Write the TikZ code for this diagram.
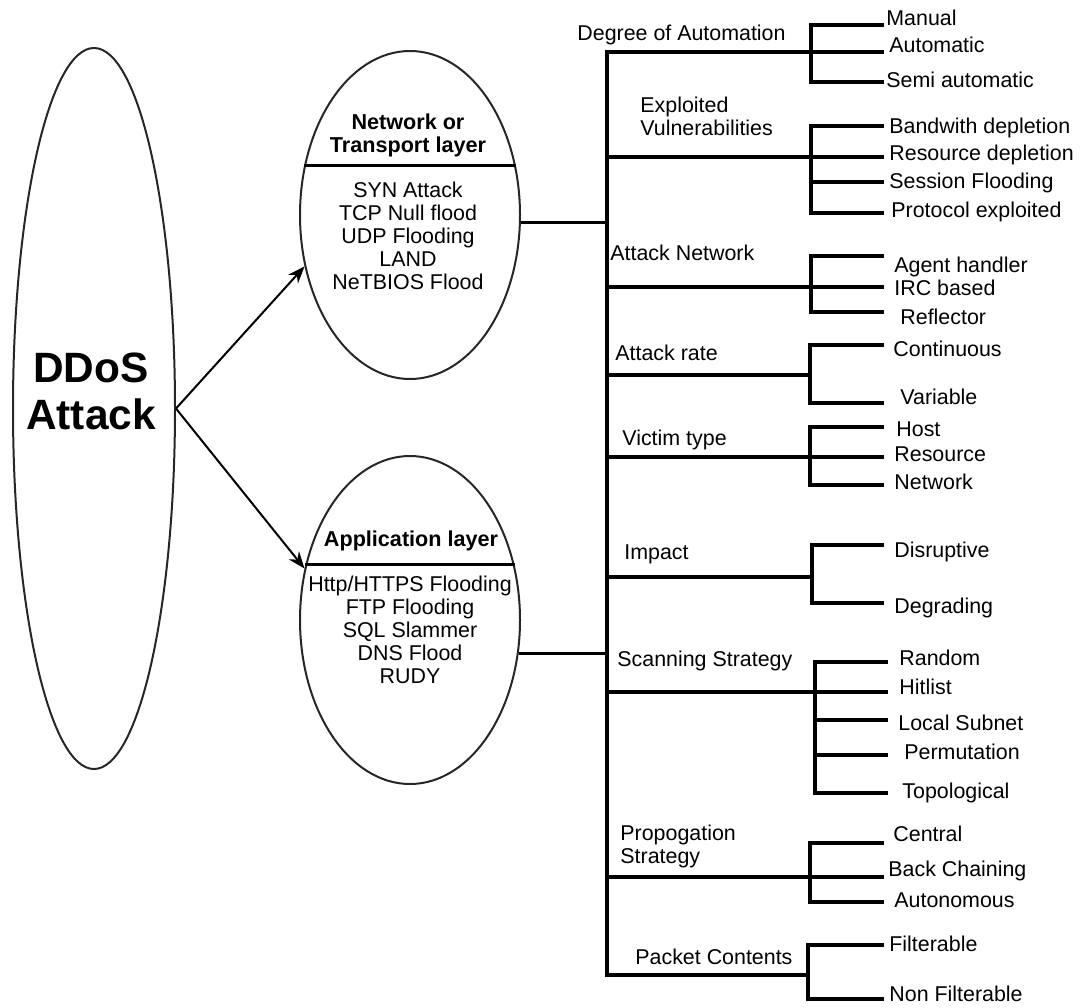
\documentclass[tikz,border=0pt]{standalone}
\usepackage{fontspec}
\setmainfont{Liberation Sans}
\usetikzlibrary{arrows.meta, shapes.geometric}

\begin{document}
\begin{tikzpicture}[
  x=0.5pt, y=-0.5pt,
  every node/.style={font=\fontsize{10.7}{11.5}\selectfont, text=black},
  oval/.style={ellipse, draw=black!85, line width=1pt, inner sep=0pt},
  head/.style={font=\fontsize{10.8}{11.5}\selectfont\bfseries, align=center, inner sep=0pt},
  headline/.style={font=\fontsize{10.8}{11.5}\selectfont\bfseries, inner sep=0pt,
              text height=7.7pt, text depth=0pt},
  body/.style={align=center, inner sep=0pt},
  cat/.style={anchor=west, inner sep=0pt, text height=7.7pt, text depth=0pt},
  catm/.style={anchor=west, inner sep=0pt, align=left},
  leaf/.style={anchor=west, inner sep=0pt, text height=7.7pt, text depth=0pt},
  spine/.style={line width=2pt},
  branch/.style={line width=1.6pt},
  brk/.style={line width=2.3pt, line cap=rect},
  split/.style={line width=1.8pt},
  arr/.style={-{Stealth[length=8.5pt, width=6.5pt]}, line width=1pt},
]
  \useasboundingbox (0,0) rectangle (1080,1007);

  % ═══ Root: the big DDoS ellipse ═══
  \node[oval, minimum width=81pt, minimum height=360.5pt] at (94,408.5) (ddos) {};
  \node[font=\fontsize{21.2}{23.5}\selectfont\bfseries, align=center, inner sep=0pt]
        at (91,391.5) (ddos_txt) {DDoS\\Attack};

  % ═══ Layer ellipses, each with a heading and a list ═══
  \node[oval, minimum width=110pt, minimum height=164pt] at (410,215) (net) {};
  \node[head] at (408,135) (net_head) {Network or\\Transport layer};
  \draw[split] (net.155) -- (net.25);
  \node[body] at (408,236) (net_list)
        {SYN Attack\\TCP Null flood\\UDP Flooding\\LAND\\NeTBIOS Flood};

  \node[oval, minimum width=110pt, minimum height=164pt] at (410,620) (app) {};
  \node[headline] at (411,539) (app_head) {Application layer};
  \draw[split] (app.152) -- (app.28);
  \node[body] at (410,629.5) (app_list)
        {Http/HTTPS Flooding\\FTP Flooding\\SQL Slammer\\DNS Flood\\RUDY};

  \draw[arr] (ddos.east) -- (net.206);
  \draw[arr] (ddos.east) -- (app.154);

  % ═══ Spine: one vertical line, one branch per criterion ═══
  \coordinate (doa) at (607,52);
  \coordinate (exv) at (607,157);
  \coordinate (anw) at (607,287);
  \coordinate (art) at (607,375);
  \coordinate (vic) at (607,457);
  \coordinate (imp) at (607,577);
  \coordinate (scn) at (607,692);
  \coordinate (prp) at (607,877);
  \coordinate (pkc) at (607,975);

  \coordinate (doa_b) at (811,52);
  \coordinate (exv_b) at (811,157);
  \coordinate (anw_b) at (811,287);
  \coordinate (art_b) at (810,375);
  \coordinate (vic_b) at (810,457);
  \coordinate (imp_b) at (812,577);
  \coordinate (scn_b) at (815,692);
  \coordinate (prp_b) at (810,877);
  \coordinate (pkc_b) at (808,975);

  \draw[spine, line join=miter] (doa_b) -- (doa) -- (pkc) -- (pkc_b);
  \draw[branch] (exv) -- (exv_b);
  \draw[branch] (anw) -- (anw_b);
  \draw[branch] (art) -- (art_b);
  \draw[branch] (vic) -- (vic_b);
  \draw[branch] (imp) -- (imp_b);
  \draw[branch] (scn) -- (scn_b);
  \draw[branch] (prp) -- (prp_b);

  \draw[branch] (net.-4) -- (net.-4 -| doa);
  \draw[branch] (app.-17) -- (app.-17 -| doa);

  % criterion labels
  \node[cat] at (577,33) (doa_lbl) {Degree of Automation};
  \node[catm] at (640,116.5) (exv_lbl) {Exploited\\Vulnerabilities};
  \node[cat, fill=white] at (610,253) (anw_lbl) {Attack Network};
  \node[cat] at (615,353) (art_lbl) {Attack rate};
  \node[cat] at (622,438) (vic_lbl) {Victim type};
  \node[cat] at (624,552) (imp_lbl) {Impact};
  \node[cat] at (617,659) (scn_lbl) {Scanning Strategy};
  \node[catm] at (620,846) (prp_lbl) {Propogation\\Strategy};
  \node[cat] at (635,957) (pkc_lbl) {Packet Contents};

  % ═══ Leaves ═══
  % Degree of Automation
  \coordinate (manual_end) at (884,25);
  \coordinate (automatic_end) at (884,52);
  \coordinate (semi_end) at (884,82);
  \node[leaf] at (886,18) (manual) {Manual};
  \node[leaf] at (889,45) (automatic) {Automatic};
  \node[leaf] at (886,80) (semi) {Semi automatic};
  \draw[brk] (doa_b |- manual_end) -- (doa_b |- semi_end);
  \draw[branch] (doa_b |- manual_end) -- (manual_end);
  \draw[branch] (doa_b |- automatic_end) -- (automatic_end);
  \draw[branch] (doa_b |- semi_end) -- (semi_end);

  % Exploited Vulnerabilities
  \coordinate (bwd_end) at (884,126);
  \coordinate (rsd_end) at (884,157);
  \coordinate (ssf_end) at (884,182);
  \coordinate (pex_end) at (884,213);
  \node[leaf] at (889,126) (bwd) {Bandwith depletion};
  \node[leaf] at (889,153) (rsd) {Resource depletion};
  \node[leaf] at (889,181) (ssf) {Session Flooding};
  \node[leaf] at (891,210) (pex) {Protocol exploited};
  \draw[brk] (exv_b |- bwd_end) -- (exv_b |- pex_end);
  \draw[branch] (exv_b |- bwd_end) -- (bwd_end);
  \draw[branch] (exv_b |- rsd_end) -- (rsd_end);
  \draw[branch] (exv_b |- ssf_end) -- (ssf_end);
  \draw[branch] (exv_b |- pex_end) -- (pex_end);

  % Attack Network
  \coordinate (agent_end) at (884,256);
  \coordinate (irc_end) at (884,287);
  \coordinate (refl_end) at (884,312);
  \node[leaf] at (894,265) (agent) {Agent handler};
  \node[leaf] at (894,288) (irc) {IRC based};
  \node[leaf] at (900,317) (refl) {Reflector};
  \draw[brk] (anw_b |- agent_end) -- (anw_b |- refl_end);
  \draw[branch] (anw_b |- agent_end) -- (agent_end);
  \draw[branch] (anw_b |- irc_end) -- (irc_end);
  \draw[branch] (anw_b |- refl_end) -- (refl_end);

  % Attack rate
  \coordinate (cont_end) at (884,345);
  \coordinate (var_end) at (884,403);
  \node[leaf] at (893,349) (cont) {Continuous};
  \node[leaf] at (900,397) (var) {Variable};
  \draw[brk] (art_b |- cont_end) -- (art_b |- var_end);
  \draw[branch] (art_b |- cont_end) -- (cont_end);
  \draw[branch] (art_b |- var_end) -- (var_end);

  % Victim type
  \coordinate (host_end) at (884,427);
  \coordinate (res_end) at (884,457);
  \coordinate (netw_end) at (884,485);
  \node[leaf] at (896,429) (host) {Host};
  \node[leaf] at (894,454) (res) {Resource};
  \node[leaf] at (894,482) (netw) {Network};
  \draw[brk] (vic_b |- host_end) -- (vic_b |- netw_end);
  \draw[branch] (vic_b |- host_end) -- (host_end);
  \draw[branch] (vic_b |- res_end) -- (res_end);
  \draw[branch] (vic_b |- netw_end) -- (netw_end);

  % Impact
  \coordinate (disr_end) at (884,545);
  \coordinate (degr_end) at (884,603);
  \node[leaf] at (894,550) (disr) {Disruptive};
  \node[leaf] at (894,606) (degr) {Degrading};
  \draw[brk] (imp_b |- disr_end) -- (imp_b |- degr_end);
  \draw[branch] (imp_b |- disr_end) -- (disr_end);
  \draw[branch] (imp_b |- degr_end) -- (degr_end);

  % Scanning Strategy
  \coordinate (rand_end) at (888,662);
  \coordinate (hit_end) at (888,692);
  \coordinate (lsub_end) at (888,720);
  \coordinate (perm_end) at (888,755);
  \coordinate (topo_end) at (888,793);
  \node[leaf] at (899,658) (rand) {Random};
  \node[leaf] at (899,687) (hit) {Hitlist};
  \node[leaf] at (898,723) (lsub) {Local Subnet};
  \node[leaf] at (904,752) (perm) {Permutation};
  \node[leaf] at (902,791) (topo) {Topological};
  \draw[brk] (scn_b |- rand_end) -- (scn_b |- topo_end);
  \draw[branch] (scn_b |- rand_end) -- (rand_end);
  \draw[branch] (scn_b |- hit_end) -- (hit_end);
  \draw[branch] (scn_b |- lsub_end) -- (lsub_end);
  \draw[branch] (scn_b |- perm_end) -- (perm_end);
  \draw[branch] (scn_b |- topo_end) -- (topo_end);

  % Propogation Strategy
  \coordinate (cent_end) at (884,843);
  \coordinate (back_end) at (884,877);
  \coordinate (auto_end) at (884,902);
  \node[leaf] at (893,834) (cent) {Central};
  \node[leaf] at (888,869) (back) {Back Chaining};
  \node[leaf] at (894,900) (auto) {Autonomous};
  \draw[brk] (prp_b |- cent_end) -- (prp_b |- auto_end);
  \draw[branch] (prp_b |- cent_end) -- (cent_end);
  \draw[branch] (prp_b |- back_end) -- (back_end);
  \draw[branch] (prp_b |- auto_end) -- (auto_end);

  % Packet Contents
  \coordinate (filt_end) at (884,945);
  \coordinate (nfilt_end) at (884,999);
  \node[leaf] at (889,944) (filt) {Filterable};
  \node[leaf] at (889,994) (nfilt) {Non Filterable};
  \draw[brk] (pkc_b |- filt_end) -- (pkc_b |- nfilt_end);
  \draw[branch] (pkc_b |- filt_end) -- (filt_end);
  \draw[branch] (pkc_b |- nfilt_end) -- (nfilt_end);
\end{tikzpicture}
\end{document}
